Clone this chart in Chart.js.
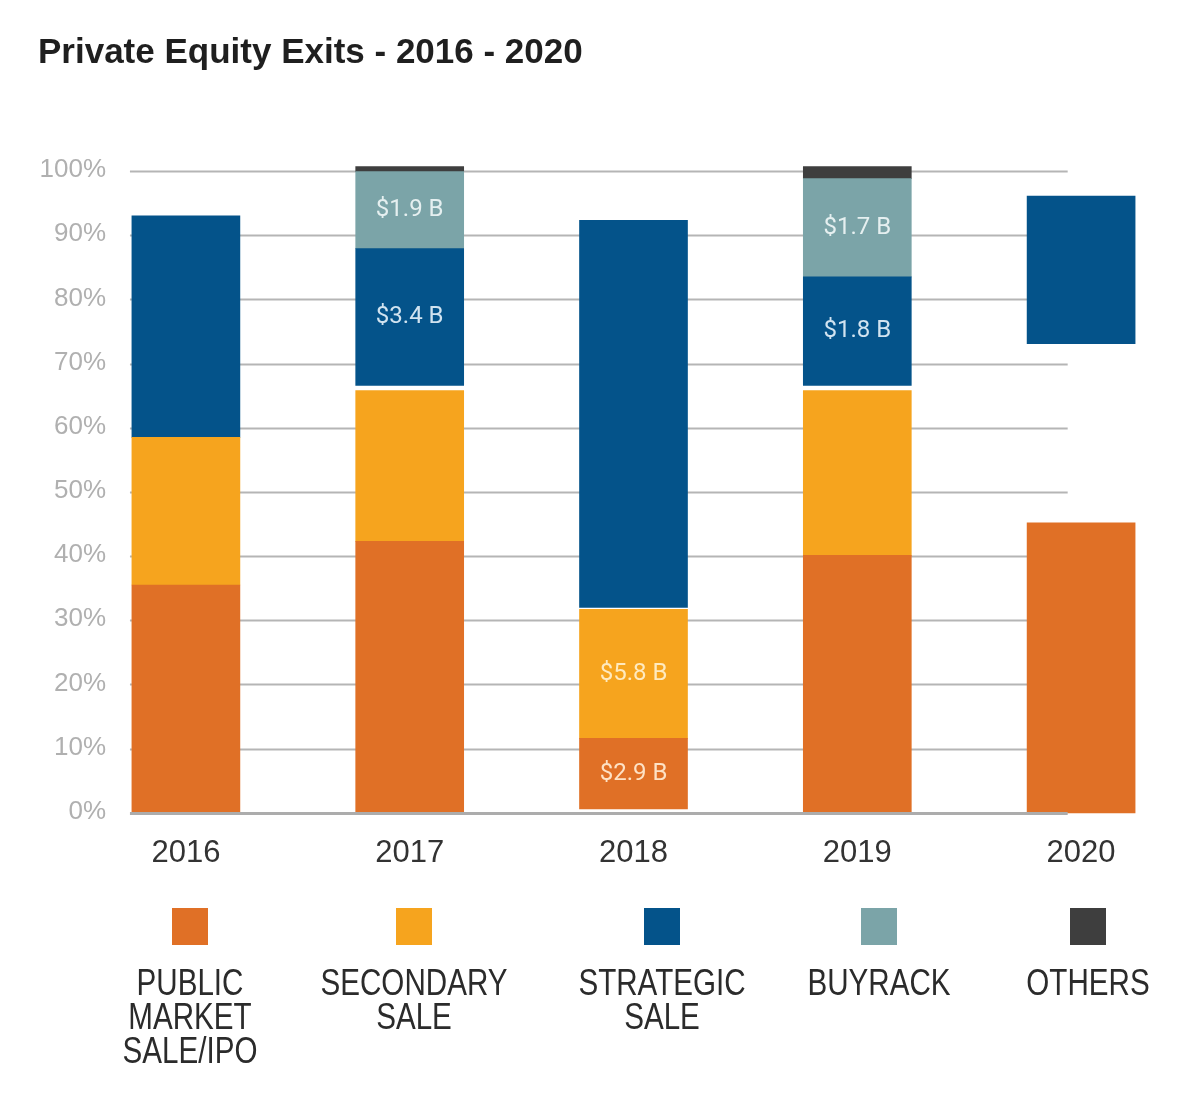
<!DOCTYPE html>
<html>
<head>
<meta charset="utf-8">
<script src="https://cdn.jsdelivr.net/npm/chart.js@4.4.0/dist/chart.umd.min.js"></script>
<style>
html, body { margin: 0; padding: 0; background: #fff; }
#wrap { position: relative; width: 1200px; height: 1098px; }
#chart { position: absolute; left: 0; top: 0; }
#legend { position: absolute; left: 0; top: 0; width: 1200px; height: 1098px; pointer-events: none; }
.item { position: absolute; top: 908px; width: 260px; margin-left: -130px; text-align: center;
  font-family: "Liberation Sans", Arial, sans-serif; font-size: 37px; line-height: 34px; color: #2b2b2b; }
.item .line { transform: scaleX(0.8); }
.box { width: 36px; height: 37px; margin: 0 auto 21px auto; }
</style>
</head>
<body>
<div id="wrap">
  <canvas id="chart" width="1200" height="1098"></canvas>
  <div id="legend"></div>
</div>
<script>
// categories and tick labels
const years = ["2016", "2017", "2018", "2019", "2020"]
const yTicks = [0, 10, 20, 30, 40, 50, 60, 70, 80, 90, 100]

// each segment is [from %, to %] as it sits in the picture
const publicSale    = [[0, 35.5], [0, 42.3], [0.6, 11.6], [0, 40.1], [0, 45.2]]
const secondarySale = [[35.5, 58.5], [42.3, 65.8], [11.6, 31.7], [40.1, 65.8], null]
const strategicSale = [[58.5, 93.0], [66.6, 87.9], [32.0, 92.3], [66.6, 83.5], [73.1, 96.1]]
const buyrack       = [null, [87.9, 99.9], null, [83.5, 98.8], null]
const others        = [null, [99.9, 100.7], null, [98.8, 100.7], null]

// value labels written inside the segments
const publicLabels    = [null, null, "$2.9 B", null, null]
const secondaryLabels = [null, null, "$5.8 B", null, null]
const strategicLabels = [null, "$3.4 B", null, "$1.8 B", null]
const buyrackLabels   = [null, "$1.9 B", null, "$1.7 B", null]

// legend text, one entry per line
const legendLines = [["PUBLIC", "MARKET", "SALE/IPO"], ["SECONDARY", "SALE"], ["STRATEGIC", "SALE"], ["BUYRACK"], ["OTHERS"]]
const legendCenters = [190, 414, 662, 879, 1088]

// gridlines run from the left edge of the first bar to just short of the last one
const gridFrom = -0.25
const gridTo = 3.94
const tickRight = 106

const colors = ["#E07026", "#F6A41E", "#04538A", "#7BA4A8", "#3E3E3E"]

const mk = (label, data, color, labels, labelColor) => ({
    label: label, data: data, backgroundColor: color, borderWidth: 0,
    grouped: false, barThickness: 108, clip: false,
    valueLabels: labels, valueColor: labelColor
})

const gridLines = {
    id: "gridLines",
    beforeDatasetsDraw(chart) {
        const {ctx, scales: {x, y}} = chart
        const x0 = x.getPixelForValue(gridFrom)
        const x1 = x.getPixelForValue(gridTo)
        ctx.save()
        ctx.strokeStyle = "#b5b5b5"
        ctx.lineWidth = 2
        yTicks.forEach(v => {
            if (v === 0) return
            const py = Math.round(y.getPixelForValue(v)) + 0.5
            ctx.beginPath()
            ctx.moveTo(x0, py)
            ctx.lineTo(x1, py)
            ctx.stroke()
        })
        // percent labels on the left
        ctx.fillStyle = "#b0b0b0"
        ctx.font = "26px 'Liberation Sans', Arial, sans-serif"
        ctx.textAlign = "right"
        ctx.textBaseline = "middle"
        yTicks.forEach(v => {
            ctx.fillText(v + "%", tickRight, y.getPixelForValue(v) - 1)
        })
        ctx.restore()
    },
    afterDatasetsDraw(chart) {
        const {ctx, scales: {x, y}} = chart
        ctx.save()
        ctx.strokeStyle = "#acacac"
        ctx.lineWidth = 3
        const py = Math.round(y.getPixelForValue(0)) + 0.5
        ctx.beginPath()
        ctx.moveTo(x.getPixelForValue(gridFrom), py)
        ctx.lineTo(x.getPixelForValue(gridTo), py)
        ctx.stroke()

        ctx.font = "24px Roboto, 'Liberation Sans', sans-serif"
        ctx.textAlign = "center"
        ctx.textBaseline = "middle"
        chart.data.datasets.forEach((ds, i) => {
            if (!ds.valueLabels) return
            const meta = chart.getDatasetMeta(i)
            ds.valueLabels.forEach((txt, j) => {
                if (!txt) return
                const el = meta.data[j]
                ctx.fillStyle = ds.valueColor
                ctx.fillText(txt, el.x, (el.y + el.base) / 2)
            })
        })
        ctx.restore()
    }
}

const chart = new Chart(document.getElementById("chart"), {
    type: "bar",
    data: {
        labels: years,
        datasets: [
            mk("PUBLIC MARKET SALE/IPO", publicSale, colors[0], publicLabels, "rgba(255,232,205,0.95)"),
            mk("SECONDARY SALE", secondarySale, colors[1], secondaryLabels, "rgba(255,238,200,0.95)"),
            mk("STRATEGIC SALE", strategicSale, colors[2], strategicLabels, "rgba(220,235,245,0.95)"),
            mk("BUYRACK", buyrack, colors[3], buyrackLabels, "rgba(235,243,243,0.95)"),
            mk("OTHERS", others, colors[4], null, null)
        ]
    },
    options: {
        responsive: false,
        animation: false,
        layout: { padding: { left: 38, right: 7, top: 0, bottom: 212 } },
        plugins: {
            legend: { display: false },
            tooltip: { enabled: false },
            title: {
                display: true,
                text: "Private Equity Exits - 2016 - 2020",
                align: "start",
                color: "#1f1f1f",
                font: { family: "'Liberation Sans', Arial, sans-serif", size: 35, weight: "bold" },
                padding: { top: 32, bottom: 97 }
            }
        },
        scales: {
            x: {
                grid: { display: false },
                border: { display: false },
                ticks: { color: "#333", padding: 14, font: { family: "'Liberation Sans', Arial, sans-serif", size: 31 } }
            },
            y: {
                min: 0, max: 100,
                grid: { display: false },
                border: { display: false },
                afterFit(scale) { scale.width = 36 },
                afterBuildTicks(scale) { scale.ticks = yTicks.map(v => ({ value: v })) },
                ticks: { display: false }
            }
        }
    },
    plugins: [gridLines]
})

// legend below the chart, built from the dataset colours
const legend = document.getElementById("legend")
legendLines.forEach((lines, i) => {
    const item = document.createElement("div")
    item.className = "item"
    item.style.left = legendCenters[i] + "px"
    const box = document.createElement("div")
    box.className = "box"
    box.style.background = colors[i]
    item.appendChild(box)
    lines.forEach(t => {
        const line = document.createElement("div")
        line.className = "line"
        line.textContent = t
        item.appendChild(line)
    })
    legend.appendChild(item)
})
</script>
</body>
</html>
